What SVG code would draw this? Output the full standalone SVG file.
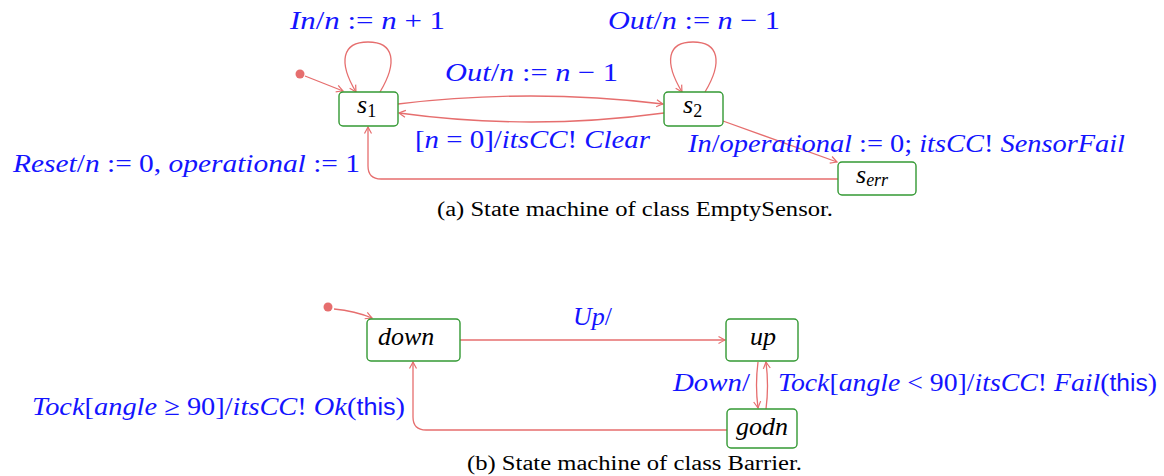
<svg xmlns="http://www.w3.org/2000/svg" width="1164" height="476" viewBox="0 0 1164 476">
<style>
.box{fill:#fff;stroke:#339933;stroke-width:1.4}
.nt{font-family:"Liberation Serif",serif;font-size:26px;font-style:italic;fill:#000}
.sub{font-size:18px}
.up{font-style:normal}
.e{fill:none;stroke:#e66e6e;stroke-width:1.3}
.dot{fill:#e66e6e}
.lb{font-family:"Liberation Serif",serif;font-size:26px;fill:#1414ff}
.i{font-style:italic}
.sf{font-family:"Liberation Sans",sans-serif;font-size:23px}
.cap{font-family:"Liberation Serif",serif;font-size:20px;fill:#000}
</style>
<defs>
<marker id="ah" viewBox="-8 -5 10 10" refX="0" refY="0" markerWidth="10" markerHeight="10" markerUnits="userSpaceOnUse" orient="auto">
<path d="M-6.5,-3.5 Q-2,-1 0,0 Q-2,1 -6.5,3.5" fill="none" stroke="#e66e6e" stroke-width="1.2"/>
</marker>
</defs>

<g id="connectors">
<circle class="dot" cx="300" cy="74" r="4.5"/>
<path class="e" d="M305,76 L343,91" marker-end="url(#ah)"/>
<path class="e" d="M380,92 C398,62 394,42 368,42 C342,42 338,62 356,92" marker-end="url(#ah)"/>
<path class="e" d="M705,92 C723,62 719,42 693,42 C667,42 664,62 682,92" marker-end="url(#ah)"/>
<path class="e" d="M398,104 Q531,88 663,104" marker-end="url(#ah)"/>
<path class="e" d="M664,113 Q531,131 399,113" marker-end="url(#ah)"/>
<path class="e" d="M723,121 L837,162" marker-end="url(#ah)"/>
<path class="e" d="M838,179 L381,179 Q368,179 368,166 L368,127" marker-end="url(#ah)"/>

<circle class="dot" cx="328" cy="307" r="4.5"/>
<path class="e" d="M334,309 Q355,311 372,318" marker-end="url(#ah)"/>
<path class="e" d="M460,340 L725,340" marker-end="url(#ah)"/>
<path class="e" d="M758,362 Q755,385 758,408" marker-end="url(#ah)"/>
<path class="e" d="M766,409 Q769,386 766,362" marker-end="url(#ah)"/>
<path class="e" d="M727,430 L426,430 Q413,430 413,417 L413,362" marker-end="url(#ah)"/>
</g>

<g id="labels">
<text class="lb" x="290" y="29" textLength="155" lengthAdjust="spacingAndGlyphs"><tspan class="i">In</tspan>/<tspan class="i">n</tspan> := <tspan class="i">n</tspan> + 1</text>
<text class="lb" x="608" y="29" textLength="172" lengthAdjust="spacingAndGlyphs"><tspan class="i">Out</tspan>/<tspan class="i">n</tspan> := <tspan class="i">n</tspan> − 1</text>
<text class="lb" x="445" y="81" textLength="173" lengthAdjust="spacingAndGlyphs"><tspan class="i">Out</tspan>/<tspan class="i">n</tspan> := <tspan class="i">n</tspan> − 1</text>
<text class="lb" x="415" y="148" textLength="235" lengthAdjust="spacingAndGlyphs">[<tspan class="i">n</tspan> = 0]/<tspan class="i">itsCC</tspan>! <tspan class="i">Clear</tspan></text>
<text class="lb" x="688" y="152" textLength="437" lengthAdjust="spacingAndGlyphs"><tspan class="i">In</tspan>/<tspan class="i">operational</tspan> := 0; <tspan class="i">itsCC</tspan>! <tspan class="i">SensorFail</tspan></text>
<text class="lb" x="13" y="172" textLength="347" lengthAdjust="spacingAndGlyphs"><tspan class="i">Reset</tspan>/<tspan class="i">n</tspan> := 0, <tspan class="i">operational</tspan> := 1</text>
<text class="lb" x="573" y="325" textLength="39" lengthAdjust="spacingAndGlyphs"><tspan class="i">Up</tspan>/</text>
<text class="lb" x="673" y="391" textLength="77" lengthAdjust="spacingAndGlyphs"><tspan class="i">Down</tspan>/</text>
<text class="lb" x="778" y="391" textLength="379" lengthAdjust="spacingAndGlyphs"><tspan class="i">Tock</tspan>[<tspan class="i">angle</tspan> &lt; 90]/<tspan class="i">itsCC</tspan>! <tspan class="i">Fail</tspan>(<tspan class="sf">this</tspan>)</text>
<text class="lb" x="32" y="415" textLength="373" lengthAdjust="spacingAndGlyphs"><tspan class="i">Tock</tspan>[<tspan class="i">angle</tspan> ≥ 90]/<tspan class="i">itsCC</tspan>! <tspan class="i">Ok</tspan>(<tspan class="sf">this</tspan>)</text>
</g>

<g id="s1">
<rect class="box" x="339" y="92" width="59" height="34" rx="4"/>
<text class="nt" x="357" y="113">s<tspan class="sub up" dy="4">1</tspan></text>
</g>
<g id="s2">
<rect class="box" x="664" y="92" width="59" height="34" rx="4"/>
<text class="nt" x="683" y="113">s<tspan class="sub up" dy="4">2</tspan></text>
</g>
<g id="serr">
<rect class="box" x="838" y="162" width="78" height="33" rx="4"/>
<text class="nt" x="856" y="183">s<tspan class="sub" dy="3">err</tspan></text>
</g>
<g id="down">
<rect class="box" x="367" y="319" width="93" height="42" rx="4"/>
<text class="nt" x="378" y="345">down</text>
</g>
<g id="up">
<rect class="box" x="726" y="319" width="72" height="42" rx="4"/>
<text class="nt" x="763" y="345" text-anchor="middle">up</text>
</g>
<g id="godn">
<rect class="box" x="727" y="409" width="70" height="39" rx="4"/>
<text class="nt" x="762" y="435" text-anchor="middle">godn</text>
</g>

<g id="captions">
<text class="cap" x="437" y="216" textLength="396" lengthAdjust="spacingAndGlyphs">(a) State machine of class EmptySensor.</text>
<text class="cap" x="467" y="470" textLength="335" lengthAdjust="spacingAndGlyphs">(b) State machine of class Barrier.</text>
</g>
</svg>
